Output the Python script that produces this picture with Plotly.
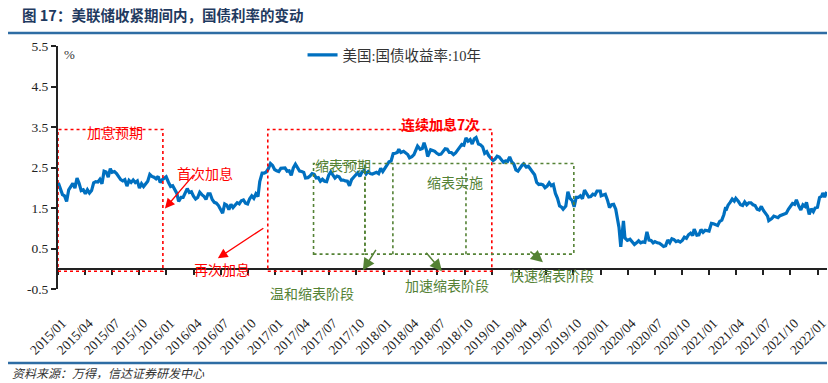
import plotly.graph_objects as go
from datetime import date, timedelta

# ---------------- data ----------------
dates = [
    "2015-01-02","2015-01-09","2015-01-16","2015-01-23","2015-01-30",
    "2015-02-06","2015-02-13","2015-02-20","2015-02-27",
    "2015-03-06","2015-03-13","2015-03-20","2015-03-27",
    "2015-04-03","2015-04-10","2015-04-17","2015-04-24",
    "2015-05-01","2015-05-08","2015-05-15","2015-05-22","2015-05-29",
    "2015-06-05","2015-06-12","2015-06-19","2015-06-26",
    "2015-07-02","2015-07-10","2015-07-17","2015-07-24","2015-07-31",
    "2015-08-07","2015-08-14","2015-08-21","2015-08-28",
    "2015-09-04","2015-09-11","2015-09-18","2015-09-25",
    "2015-10-02","2015-10-09","2015-10-16","2015-10-23","2015-10-30",
    "2015-11-06","2015-11-13","2015-11-20","2015-11-27",
    "2015-12-04","2015-12-11","2015-12-18","2015-12-31",
    "2016-01-08","2016-01-15","2016-01-22","2016-01-29",
    "2016-02-05","2016-02-11","2016-02-19","2016-02-26",
    "2016-03-04","2016-03-11","2016-03-18","2016-03-25",
    "2016-04-01","2016-04-08","2016-04-15","2016-04-22","2016-04-29",
    "2016-05-06","2016-05-13","2016-05-20","2016-05-27",
    "2016-06-03","2016-06-10","2016-06-17","2016-06-24","2016-06-30",
    "2016-07-08","2016-07-15","2016-07-22","2016-07-29",
    "2016-08-05","2016-08-12","2016-08-19","2016-08-26",
    "2016-09-02","2016-09-09","2016-09-16","2016-09-23","2016-09-30",
    "2016-10-07","2016-10-14","2016-10-21","2016-10-28",
    "2016-11-04","2016-11-10","2016-11-18","2016-11-25",
    "2016-12-02","2016-12-09","2016-12-16","2016-12-23","2016-12-30",
    "2017-01-06","2017-01-13","2017-01-20","2017-01-27",
    "2017-02-03","2017-02-10","2017-02-17","2017-02-24",
    "2017-03-03","2017-03-10","2017-03-17","2017-03-24","2017-03-31",
    "2017-04-07","2017-04-13","2017-04-21","2017-04-28",
    "2017-05-05","2017-05-12","2017-05-19","2017-05-26",
    "2017-06-02","2017-06-09","2017-06-16","2017-06-23","2017-06-30",
    "2017-07-07","2017-07-14","2017-07-21","2017-07-28",
    "2017-08-04","2017-08-11","2017-08-18","2017-08-25",
    "2017-09-01","2017-09-08","2017-09-15","2017-09-22","2017-09-29",
    "2017-10-06","2017-10-13","2017-10-20","2017-10-27",
    "2017-11-03","2017-11-10","2017-11-17","2017-11-24",
    "2017-12-01","2017-12-08","2017-12-15","2017-12-22","2017-12-29",
    "2018-01-05","2018-01-12","2018-01-19","2018-01-26",
    "2018-02-02","2018-02-09","2018-02-16","2018-02-21","2018-02-28",
    "2018-03-09","2018-03-16","2018-03-23","2018-03-29",
    "2018-04-06","2018-04-13","2018-04-20","2018-04-25",
    "2018-05-04","2018-05-11","2018-05-17","2018-05-25","2018-05-29",
    "2018-06-08","2018-06-15","2018-06-22","2018-06-29",
    "2018-07-06","2018-07-13","2018-07-20","2018-07-27",
    "2018-08-03","2018-08-10","2018-08-17","2018-08-24","2018-08-31",
    "2018-09-07","2018-09-14","2018-09-21","2018-09-28",
    "2018-10-05","2018-10-12","2018-10-19","2018-10-26",
    "2018-11-02","2018-11-08","2018-11-16","2018-11-23","2018-11-30",
    "2018-12-07","2018-12-14","2018-12-21","2018-12-31",
    "2019-01-04","2019-01-11","2019-01-18","2019-01-25",
    "2019-02-01","2019-02-08","2019-02-15","2019-02-22",
    "2019-03-01","2019-03-08","2019-03-15","2019-03-22","2019-03-29",
    "2019-04-05","2019-04-12","2019-04-17","2019-04-26",
    "2019-05-03","2019-05-10","2019-05-17","2019-05-24","2019-05-31",
    "2019-06-07","2019-06-14","2019-06-21","2019-06-28",
    "2019-07-05","2019-07-12","2019-07-19","2019-07-26",
    "2019-08-02","2019-08-09","2019-08-16","2019-08-23","2019-08-28",
    "2019-09-06","2019-09-13","2019-09-20","2019-09-27",
    "2019-10-04","2019-10-11","2019-10-18","2019-10-25",
    "2019-11-01","2019-11-08","2019-11-15","2019-11-22","2019-11-29",
    "2019-12-06","2019-12-13","2019-12-20","2019-12-31",
    "2020-01-03","2020-01-10","2020-01-17","2020-01-24","2020-01-31",
    "2020-02-07","2020-02-14","2020-02-21","2020-02-28",
    "2020-03-03","2020-03-09","2020-03-13","2020-03-18","2020-03-23","2020-03-31",
    "2020-04-09","2020-04-17","2020-04-24",
    "2020-05-01","2020-05-08","2020-05-15","2020-05-22","2020-05-29",
    "2020-06-05","2020-06-12","2020-06-19","2020-06-26",
    "2020-07-02","2020-07-10","2020-07-17","2020-07-24","2020-07-31",
    "2020-08-07","2020-08-14","2020-08-21","2020-08-28",
    "2020-09-04","2020-09-11","2020-09-18","2020-09-25",
    "2020-10-02","2020-10-09","2020-10-16","2020-10-23","2020-10-30",
    "2020-11-06","2020-11-11","2020-11-20","2020-11-27",
    "2020-12-04","2020-12-11","2020-12-18","2020-12-31",
    "2021-01-08","2021-01-15","2021-01-22","2021-01-29",
    "2021-02-05","2021-02-12","2021-02-19","2021-02-25","2021-02-26",
    "2021-03-05","2021-03-12","2021-03-19","2021-03-26","2021-03-31",
    "2021-04-09","2021-04-16","2021-04-23","2021-04-30",
    "2021-05-07","2021-05-14","2021-05-21","2021-05-28",
    "2021-06-04","2021-06-11","2021-06-18","2021-06-25",
    "2021-07-02","2021-07-09","2021-07-16","2021-07-20","2021-07-30",
    "2021-08-06","2021-08-13","2021-08-20","2021-08-27",
    "2021-09-03","2021-09-10","2021-09-17","2021-09-24","2021-09-30",
    "2021-10-08","2021-10-15","2021-10-21","2021-10-29",
    "2021-11-05","2021-11-12","2021-11-19","2021-11-24","2021-11-30",
    "2021-12-03","2021-12-10","2021-12-17","2021-12-23","2021-12-31",
    "2022-01-07","2022-01-14","2022-01-18","2022-01-24","2022-01-31",
]
yields = [
    2.12,1.95,1.83,1.80,1.66,
    1.95,2.05,2.11,1.99,
    2.24,2.11,1.93,1.95,
    1.85,1.95,1.87,1.93,
    2.12,2.15,2.14,2.21,2.10,
    2.41,2.39,2.26,2.47,
    2.38,2.40,2.35,2.26,2.20,
    2.17,2.20,2.04,2.18,
    2.13,2.19,2.13,2.17,
    1.99,2.10,2.03,2.09,2.16,
    2.33,2.28,2.26,2.22,
    2.28,2.13,2.20,2.27,
    2.13,2.03,2.05,1.94,
    1.86,1.66,1.76,1.76,
    1.88,1.98,1.88,1.90,
    1.79,1.72,1.76,1.89,1.83,
    1.79,1.71,1.85,1.85,
    1.71,1.64,1.62,1.56,1.49,
    1.37,1.60,1.57,1.46,
    1.59,1.51,1.58,1.63,
    1.60,1.68,1.70,1.62,1.60,
    1.73,1.80,1.74,1.85,
    1.78,2.15,2.36,2.36,
    2.39,2.47,2.60,2.55,2.45,
    2.42,2.40,2.48,2.49,
    2.49,2.41,2.42,2.31,
    2.49,2.58,2.50,2.41,2.40,
    2.38,2.24,2.25,2.29,
    2.35,2.33,2.24,2.25,
    2.16,2.21,2.16,2.15,2.31,
    2.39,2.33,2.24,2.29,
    2.27,2.19,2.19,2.17,
    2.16,2.05,2.20,2.26,2.33,
    2.37,2.28,2.39,2.43,
    2.34,2.40,2.35,2.34,
    2.37,2.38,2.35,2.48,2.40,
    2.48,2.55,2.64,2.66,
    2.84,2.85,2.87,2.95,2.87,
    2.90,2.85,2.82,2.74,
    2.77,2.82,2.96,3.03,
    2.95,2.97,3.11,2.93,2.77,
    2.94,2.92,2.90,2.85,
    2.82,2.83,2.89,2.96,
    2.95,2.87,2.87,2.82,2.86,
    2.94,2.99,3.07,3.05,
    3.23,3.15,3.19,3.08,
    3.21,3.24,3.08,3.06,3.01,
    2.85,2.89,2.79,2.69,
    2.67,2.71,2.78,2.76,
    2.70,2.63,2.66,2.65,
    2.76,2.64,2.59,2.44,2.41,
    2.50,2.56,2.59,2.51,
    2.53,2.47,2.39,2.32,2.13,
    2.08,2.09,2.07,2.00,
    2.04,2.12,2.05,2.08,
    1.86,1.74,1.55,1.52,1.47,
    1.55,1.90,1.74,1.69,
    1.53,1.76,1.76,1.80,
    1.73,1.94,1.84,1.77,1.78,
    1.84,1.82,1.92,1.92,
    1.80,1.82,1.84,1.70,1.51,
    1.58,1.59,1.47,1.13,
    1.02,0.54,0.94,1.18,0.76,0.70,
    0.73,0.65,0.60,
    0.64,0.69,0.64,0.66,0.65,
    0.91,0.71,0.70,0.64,
    0.67,0.64,0.63,0.59,0.55,
    0.57,0.71,0.64,0.74,
    0.72,0.67,0.69,0.66,
    0.70,0.78,0.75,0.84,0.88,
    0.82,0.98,0.83,0.84,
    0.97,0.90,0.95,0.93,
    1.12,1.11,1.09,1.07,
    1.17,1.20,1.34,1.52,1.44,
    1.57,1.64,1.72,1.67,1.74,
    1.66,1.58,1.56,1.65,
    1.58,1.63,1.63,1.58,
    1.56,1.47,1.45,1.54,
    1.44,1.36,1.30,1.19,1.24,
    1.30,1.29,1.26,1.31,
    1.33,1.34,1.37,1.47,1.52,
    1.61,1.59,1.70,1.55,
    1.45,1.58,1.54,1.64,1.43,
    1.34,1.48,1.41,1.50,1.52,
    1.76,1.79,1.87,1.77,1.90,
]
series_name = "美国:国债收益率:10年"
tick_dates = [f"{y}-{m:02d}-01" for y in range(2015, 2023) for m in (1, 4, 7, 10)][:29]
tick_labels = [d[:7].replace("-", "/") for d in tick_dates]
y_ticks = [-0.5, 0.5, 1.5, 2.5, 3.5, 4.5, 5.5]
y_labels = ["-0.5", "0.5", "1.5", "2.5", "3.5", "4.5", "5.5"]

X_RANGE = ["2015-01-01", "2022-02-01"]
Y_RANGE = [-0.5, 5.5]
RED = "#FF0000"
GREEN = "#548235"
BLUE = "#0070C0"
SERIF = "Liberation Serif, Times New Roman, serif"
CJK = "Noto Sans CJK SC, sans-serif"

def ypaper(v):
    return (v - Y_RANGE[0]) / (Y_RANGE[1] - Y_RANGE[0])

# label axis shifted a few pixels right (rotated labels sit slightly right of ticks)
LABEL_SHIFT_DAYS = 14
def shift(d, days):
    return (date.fromisoformat(d) + timedelta(days=days)).isoformat()
label_range = [shift(X_RANGE[0], -LABEL_SHIFT_DAYS), shift(X_RANGE[1], -LABEL_SHIFT_DAYS)]

fig = go.Figure()
fig.add_trace(go.Scatter(x=dates, y=yields, mode="lines", name=series_name,
                         line=dict(color=BLUE, width=3.2)))
# helper traces so the extra axes are rendered
fig.add_trace(go.Scatter(x=[dates[0]], y=[None], xaxis="x2", yaxis="y",
                         showlegend=False, hoverinfo="skip", mode="lines"))
fig.add_trace(go.Scatter(x=[dates[0]], y=[None], xaxis="x3", yaxis="y",
                         showlegend=False, hoverinfo="skip", mode="lines"))

# dotted boxes
shapes = []
def rect(x0, x1, y0, y1, color):
    shapes.append(dict(type="rect", xref="x", yref="y", x0=x0, x1=x1, y0=y0, y1=y1,
                       line=dict(color=color, width=1.6, dash="dot"), layer="above"))
def vline(x, y0, y1, color):
    shapes.append(dict(type="line", xref="x", yref="y", x0=x, x1=x, y0=y0, y1=y1,
                       line=dict(color=color, width=1.6, dash="dot"), layer="above"))

rect("2015-01-01", "2015-12-20", -0.06, 3.44, RED)
rect("2016-12-07", "2018-12-31", -0.06, 3.44, RED)
rect("2017-05-10", "2017-10-30", 0.36, 2.60, GREEN)
rect("2017-10-30", "2019-10-03", 0.36, 2.60, GREEN)
vline("2018-02-01", 0.36, 2.60, GREEN)
vline("2018-10-05", 0.36, 2.60, GREEN)

# header / footer rules
for yy in (1.0535, -0.3045):
    shapes.append(dict(type="line", xref="paper", yref="paper", x0=-0.065, x1=1.0,
                       y0=yy, y1=yy, line=dict(color="#2E6DA4", width=2.5)))

ann = []
def label(x, y, text, color, size=14):
    ann.append(dict(x=x, y=ypaper(y), xref="x", yref="paper", text=text, showarrow=False,
                    font=dict(family=CJK, size=size, color=color),
                    xanchor="center", yanchor="middle"))
def arrow(x, y, ax, ay, color, width=1.3, size=1.5):
    ann.append(dict(x=x, y=ypaper(y), xref="x", yref="paper", text="", showarrow=True,
                    ax=ax, ay=ay, arrowhead=2, arrowsize=size, arrowwidth=width,
                    arrowcolor=color, standoff=0, startstandoff=0))

label("2015-07-12", 3.37, "加息预期", RED)
label("2018-07-09", 3.57, "<b>连续加息7次</b>", RED)
label("2016-05-10", 2.36, "首次加息", RED)
label("2016-07-06", 0.0, "再次加息", RED)
label("2017-08-17", 2.56, "缩表预期", GREEN)
label("2018-08-29", 2.14, "缩表实施", GREEN)
label("2017-05-05", -0.60, "温和缩表阶段", GREEN)
label("2018-08-02", -0.41, "加速缩表阶段", GREEN)
label("2019-07-21", -0.16, "快速缩表阶段", GREEN)

arrow("2015-12-27", 1.49, 30, -35, RED)
arrow("2016-06-22", 0.26, 47, -31, RED)
arrow("2017-10-23", -0.04, 14, -22, GREEN, 1.5, 1.6)
arrow("2018-07-16", -0.06, -17, -20, GREEN, 1.5, 1.6)
arrow("2019-06-21", 0.16, -14, -12, GREEN, 1.5, 1.6)

ann.append(dict(x=0.0156, y=0.967, xref="paper", yref="paper", text="%", showarrow=False,
                font=dict(family=SERIF, size=13, color="#333"), xanchor="center", yanchor="middle"))
ann.append(dict(x=-0.0494, y=1.1276, xref="paper", yref="paper",
                text="<b>图 17：美联储收紧期间内，国债利率的变动</b>", showarrow=False,
                font=dict(family=CJK, size=14.5, color="#1F3A60"), xanchor="left", yanchor="middle"))
ann.append(dict(x=-0.0623, y=-0.3416, xref="paper", yref="paper",
                text="<i>资料来源：万得，信达证券研发中心</i>", showarrow=False,
                font=dict(family=CJK, size=12, color="#333"), xanchor="left", yanchor="middle"))

fig.update_layout(
    width=828, height=383,
    margin=dict(l=58, r=1, t=46, b=94),
    paper_bgcolor="white", plot_bgcolor="white",
    showlegend=True,
    legend=dict(x=0.318, y=0.963, xanchor="left", yanchor="middle",
                orientation="h", bgcolor="rgba(0,0,0,0)",
                font=dict(family=SERIF + ", Noto Sans CJK SC", size=14.5, color="#333")),
    xaxis=dict(type="date", range=X_RANGE, showticklabels=False, ticks="",
               showline=False, showgrid=False, zeroline=False, automargin=False),
    xaxis2=dict(type="date", range=X_RANGE, overlaying="x", anchor="free",
                position=0.5 / 6.0, tickvals=tick_dates, showticklabels=False,
                showline=True, linecolor="#222", linewidth=2, automargin=False,
                ticks="outside", ticklen=5, tickwidth=1.5, tickcolor="#222",
                showgrid=False, zeroline=False),
    xaxis3=dict(type="date", range=label_range, overlaying="x", anchor="free",
                position=0, tickvals=tick_dates, ticktext=tick_labels,
                tickangle=-45, showline=False, showgrid=False, zeroline=False,
                ticks="outside", ticklen=20, tickcolor="rgba(0,0,0,0)", automargin=False,
                ticklabeloverflow="allow",
                tickfont=dict(family=SERIF, size=13.5, color="#222")),
    yaxis=dict(range=Y_RANGE, tickvals=y_ticks, ticktext=y_labels,
               showline=True, linecolor="#222", linewidth=2, automargin=False,
               ticks="outside", ticklen=5, tickwidth=1.5, tickcolor="#222",
               showgrid=False, zeroline=False,
               tickfont=dict(family=SERIF, size=13.5, color="#222")),
    shapes=shapes, annotations=ann,
)

fig.write_html("out.html", config={"displayModeBar": False},
               post_script="document.body.style.margin='0';document.body.style.overflow='hidden';")
